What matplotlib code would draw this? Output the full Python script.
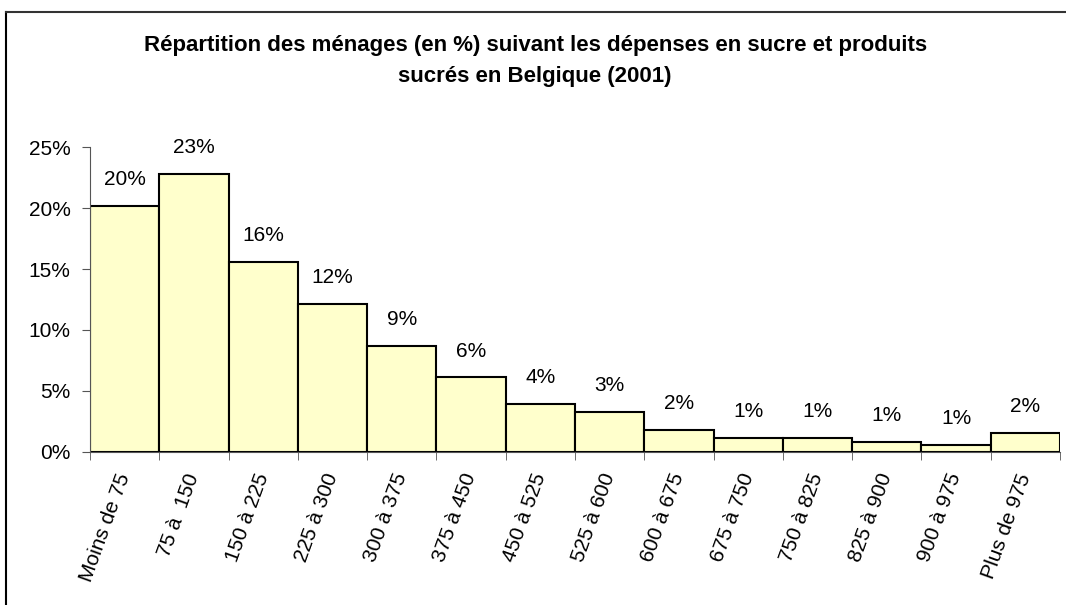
import numpy as np
import matplotlib
matplotlib.use("Agg")
import matplotlib.pyplot as plt
from matplotlib.lines import Line2D

plt.rcParams['font.family'] = ['Liberation Sans', 'DejaVu Sans']

categories = ["Moins de 75", "75 à  150", "150 à 225", "225 à 300", "300 à 375",
              "375 à 450", "450 à 525", "525 à 600", "600 à 675", "675 à 750",
              "750 à 825", "825 à 900", "900 à 975", "Plus de 975"]
shares = [20.2, 22.8, 15.6, 12.1, 8.7, 6.1, 3.9, 3.3, 1.8, 1.15, 1.15, 0.8, 0.55, 1.52]
y_ticks = [0, 5, 10, 15, 20, 25]

fig = plt.figure(figsize=(10.66, 6.05), dpi=100)
ax = fig.add_axes([0.0844, 0.2534, 0.9100, 0.5031])

x = np.arange(len(categories))
bars = ax.bar(x, shares, width=1.0, color="#FFFFCC", edgecolor="black", linewidth=1.5)

for b, v in zip(bars, shares):
    ax.annotate(f"{v:.0f}%", (b.get_x() + b.get_width() / 2, v),
                xytext=(0, 19), textcoords="offset points",
                ha="center", va="center", fontsize=15)

ax.set_xlim(-0.5, len(categories) - 0.5)
ax.set_ylim(0, 25)
ax.set_yticks(y_ticks)
ax.set_yticklabels([f"{t}%" for t in y_ticks], fontsize=15)
ax.tick_params(axis="y", direction="out", length=6, pad=8, color="#555555")

ax.set_xticks(x)
ax.set_xticklabels(categories, fontsize=15, rotation=70, ha="right", va="center",
                   rotation_mode="anchor")
ax.tick_params(axis="x", which="major", length=0, pad=16)
ax.set_xticks(np.arange(-0.5, len(categories)), minor=True)
ax.tick_params(axis="x", which="minor", direction="out", length=6, color="#555555")

for s in ["top", "right"]:
    ax.spines[s].set_visible(False)
ax.spines["left"].set_color("#555555")
ax.spines["bottom"].set_color("#555555")

fig.text(0.502, 0.899, "Répartition des ménages (en %) suivant les dépenses en sucre et produits\nsucrés en Belgique (2001)",
         ha="center", va="center", fontsize=16, fontweight="bold", linespacing=1.66)

# outer frame (cropped at right and bottom)
fig.add_artist(Line2D([6 / 1066, 6 / 1066], [0, 1 - 12 / 605], transform=fig.transFigure,
                      color="black", linewidth=1.5))
fig.add_artist(Line2D([6 / 1066, 1], [1 - 12 / 605, 1 - 12 / 605], transform=fig.transFigure,
                      color="#333333", linewidth=1.5))

fig.savefig("out.png", dpi=100)
